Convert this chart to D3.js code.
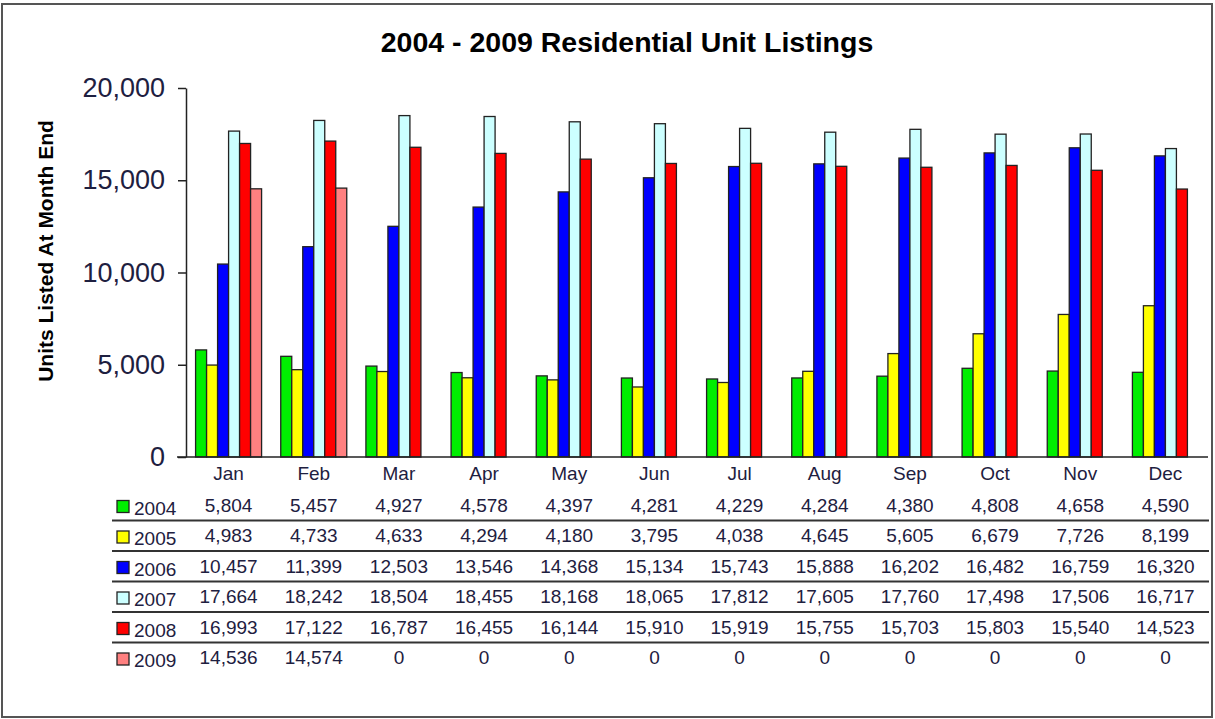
<!DOCTYPE html>
<html>
<head>
<meta charset="utf-8">
<script src="https://cdn.jsdelivr.net/npm/d3@7"></script>
<style>
  body { margin: 0; background: #fff; }
  svg { display: block; font-family: "Liberation Sans", Arial, sans-serif; }
</style>
</head>
<body>
<div id="viz"></div>
<script>
var months = ["Jan","Feb","Mar","Apr","May","Jun","Jul","Aug","Sep","Oct","Nov","Dec"];
var years = ["2004","2005","2006","2007","2008","2009"];
var colors = ["#00ee00","#ffff00","#0000ff","#ccffff","#ff0000","#ff8080"];
var yTicks = [0, 5000, 10000, 15000, 20000];

var v2004 = [5804,5457,4927,4578,4397,4281,4229,4284,4380,4808,4658,4590];
var v2005 = [4983,4733,4633,4294,4180,3795,4038,4645,5605,6679,7726,8199];
var v2006 = [10457,11399,12503,13546,14368,15134,15743,15888,16202,16482,16759,16320];
var v2007 = [17664,18242,18504,18455,18168,18065,17812,17605,17760,17498,17506,16717];
var v2008 = [16993,17122,16787,16455,16144,15910,15919,15755,15703,15803,15540,14523];
var v2009 = [14536,14574,0,0,0,0,0,0,0,0,0,0];
var series = [v2004, v2005, v2006, v2007, v2008, v2009];

var W = 1215, H = 719;
var svg = d3.select("#viz").append("svg").attr("width", W).attr("height", H);

// outer frame
svg.append("rect").attr("x", 2).attr("y", 4).attr("width", 1210).attr("height", 713)
  .attr("fill", "#fff").attr("stroke", "#555").attr("stroke-width", 2);

svg.append("text").attr("x", 627).attr("y", 52).attr("text-anchor", "middle")
  .attr("font-size", 28.5).attr("font-weight", "bold").attr("fill", "#000")
  .text("2004 - 2009 Residential Unit Listings");

var x0 = d3.scaleBand().domain(months).range([186, 1208]);
var bw = x0.bandwidth();
var gap = bw * 0.225;
var x1 = d3.scaleBand().domain(years).range([gap / 2, bw - gap / 2]);
var y = d3.scaleLinear().domain([0, 20000]).range([457, 88]);

// bars
var groups = svg.selectAll("g.month").data(months).enter().append("g")
  .attr("class", "month")
  .attr("transform", function(d) { return "translate(" + x0(d) + ",0)"; });

groups.selectAll("rect")
  .data(function(d, i) {
    return years.map(function(yr, j) { return {year: yr, value: series[j][i], c: colors[j]}; });
  })
  .enter().append("rect")
  .filter(function(d) { return d.value > 0; })
  .attr("x", function(d) { return x1(d.year); })
  .attr("y", function(d) { return y(d.value); })
  .attr("width", x1.bandwidth())
  .attr("height", function(d) { return y(0) - y(d.value); })
  .attr("fill", function(d) { return d.c; })
  .attr("stroke", "#222").attr("stroke-width", 1.3);

// y axis
var yAxis = svg.append("g").attr("transform", "translate(186,0)")
  .call(d3.axisLeft(y).tickValues(yTicks).tickFormat(d3.format(",")).tickSize(8).tickSizeOuter(0).tickPadding(13));
yAxis.select(".domain").attr("stroke", "#222").attr("stroke-width", 1.5);
yAxis.selectAll(".tick line").attr("stroke", "#222").attr("stroke-width", 1.5);
yAxis.selectAll(".tick text").attr("font-size", 27).attr("fill", "#1e2040")
  .attr("font-family", "Liberation Sans, Arial, sans-serif");

// x baseline
svg.append("line").attr("x1", 177).attr("x2", 1208).attr("y1", y(0)).attr("y2", y(0))
  .attr("stroke", "#222").attr("stroke-width", 1.5);

svg.append("text").attr("transform", "translate(53,251) rotate(-90)")
  .attr("text-anchor", "middle").attr("font-size", 21).attr("font-weight", "bold")
  .text("Units Listed At Month End");

// month labels
svg.selectAll("text.mlab").data(months).enter().append("text")
  .attr("class", "mlab")
  .attr("x", function(d) { return x0(d) + bw / 2; })
  .attr("y", 480).attr("text-anchor", "middle").attr("font-size", 19).attr("fill", "#1e2040")
  .text(function(d) { return d; });

// data table
var rowH = 30.5, row0 = 511.5;
var fmt = d3.format(",");
years.forEach(function(yr, j) {
  var by = row0 + j * rowH;
  svg.append("rect").attr("x", 117).attr("y", by - 11).attr("width", 12).attr("height", 12)
    .attr("fill", colors[j]).attr("stroke", "#222").attr("stroke-width", 1.3);
  svg.append("text").attr("x", 134).attr("y", by + 3).attr("font-size", 19).attr("fill", "#1e2040").text(yr);
  svg.selectAll(null).data(series[j]).enter().append("text")
    .attr("x", function(d, i) { return x0(months[i]) + bw / 2; })
    .attr("y", by).attr("text-anchor", "middle").attr("font-size", 19).attr("fill", "#1e2040")
    .text(function(d) { return fmt(d); });
  if (j < years.length - 1) {
    svg.append("line").attr("x1", 112).attr("x2", 1209)
      .attr("y1", by + 9).attr("y2", by + 9).attr("stroke", "#333").attr("stroke-width", 2);
  }
});
</script>
</body>
</html>
